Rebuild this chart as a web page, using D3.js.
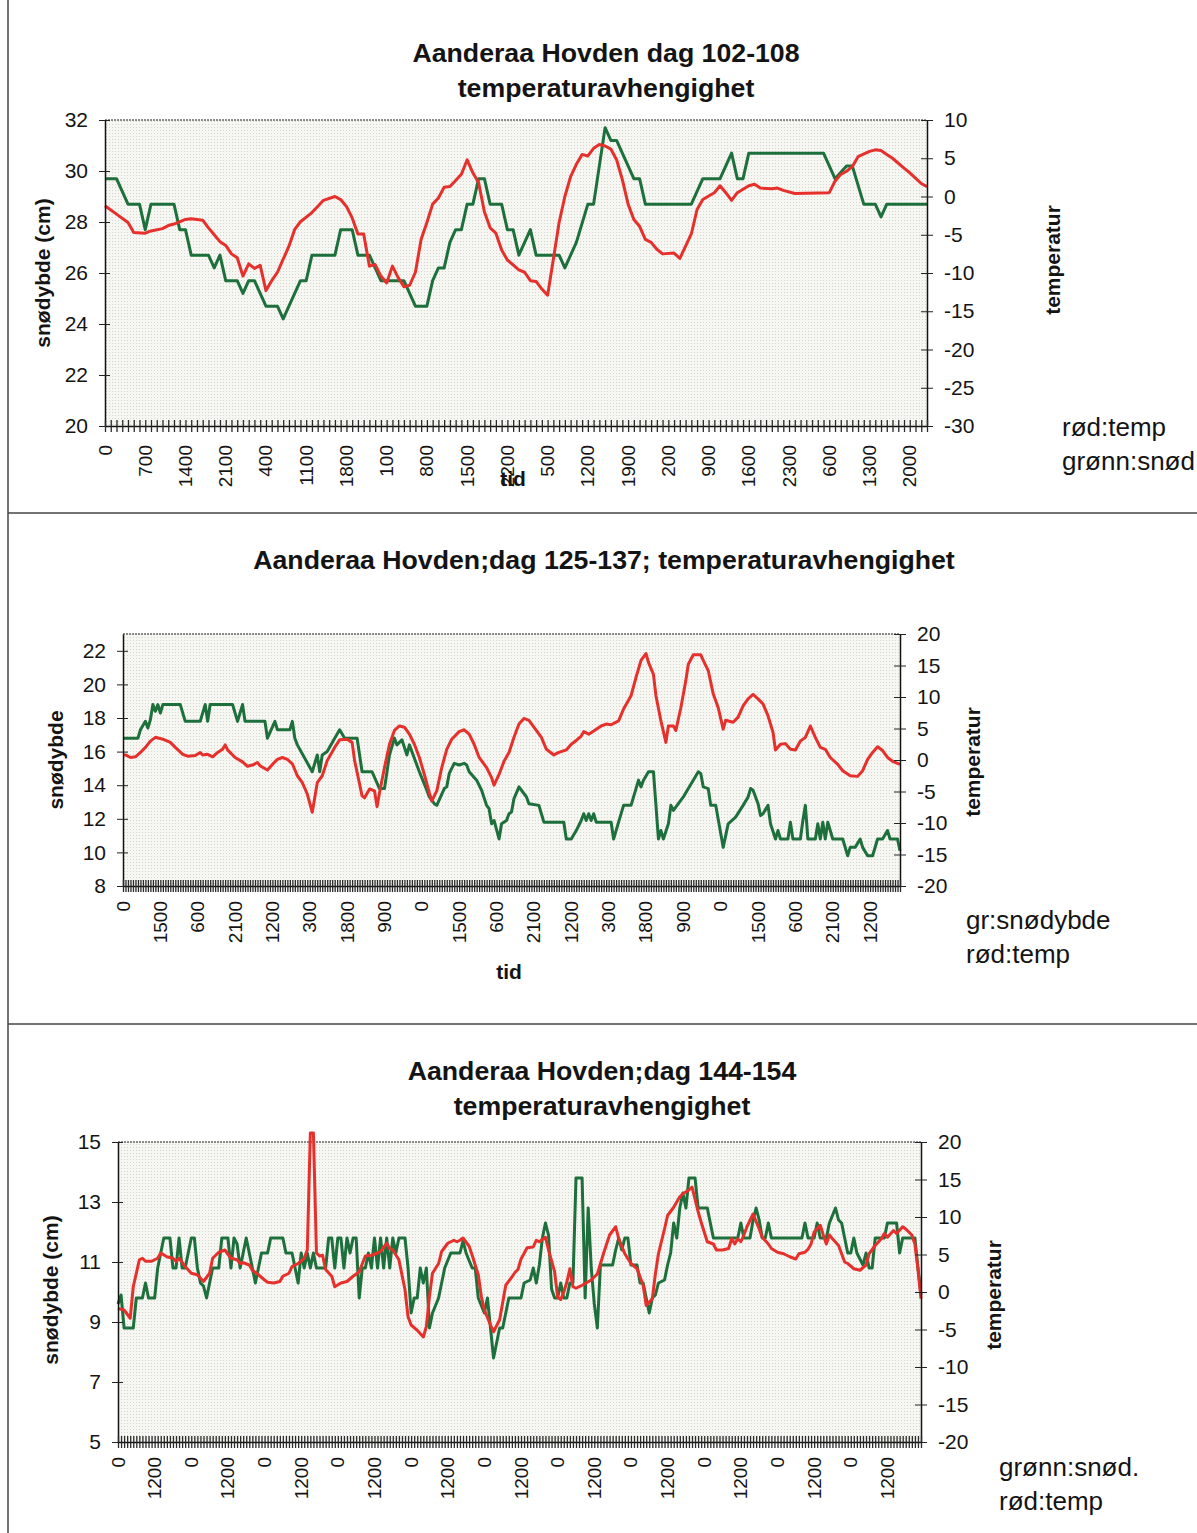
<!DOCTYPE html>
<html>
<head>
<meta charset="utf-8">
<script src="https://cdn.jsdelivr.net/npm/d3@7"></script>
<style>
  html, body { margin: 0; padding: 0; background: #fff; }
  svg { display: block; }
  text { font-family: "Liberation Sans", Arial, Helvetica, sans-serif; fill: #141414; }
</style>
</head>
<body>
<svg id="page" width="1197" height="1533"></svg>
<script>
// Hourly measurements from the Aanderaa station at Hovden.
// Each series is a list of [hour index, value] readings; the line joins them.

// ---------- days 102-108 (144 hours) ----------
const snow102 = [[0,29.7],[2,29.7],[4,28.7],[6,28.7],[7,27.7],[8,28.7],[12,28.7],[13,27.7],[14,27.7],[15,26.7],[18,26.7],[19,26.2],[20,26.7],[21,25.7],[23,25.7],[24,25.2],[25,25.7],[26,25.7],[28,24.7],[30,24.7],[31,24.2],[34,25.7],[35,25.7],[36,26.7],[40,26.7],[41,27.7],[43,27.7],[44,26.7],[46,26.7],[48,25.7],[52,25.7],[54,24.7],[56,24.7],[57,25.7],[58,26.2],[59,26.2],[60,27.2],[61,27.7],[62,27.7],[63,28.7],[64,28.7],[65,29.7],[66,29.7],[67,28.7],[69,28.7],[70,27.7],[71,27.7],[72,26.7],[74,27.7],[75,26.7],[79,26.7],[80,26.2],[81,26.7],[82,27.2],[84,28.7],[85,28.7],[87,31.7],[88,31.2],[89,31.2],[92,29.7],[93,29.7],[94,28.7],[102,28.7],[104,29.7],[107,29.7],[109,30.7],[110,29.7],[111,29.7],[112,30.7],[125,30.7],[127,29.7],[129,30.2],[130,30.2],[132,28.7],[134,28.7],[135,28.2],[136,28.7],[143,28.7]];
const temp102 = [[0,-1.2],[2,-2.3],[4,-3.4],[5,-4.7],[7,-4.8],[8,-4.5],[10,-4.2],[11,-3.8],[12,-3.6],[14,-3.0],[15,-2.9],[17,-3.1],[18,-4.1],[19,-5.0],[20,-5.9],[21,-6.4],[22,-7.5],[23,-8.0],[24,-10.4],[25,-8.8],[26,-9.4],[27,-9.0],[28,-12.3],[29,-11.0],[30,-9.9],[31,-8.2],[32,-6.5],[33,-4.3],[34,-3.3],[36,-2.1],[37,-1.3],[38,-0.5],[40,0.0],[41,-0.4],[42,-1.3],[43,-2.8],[44,-4.9],[45,-4.9],[46,-9.1],[47,-8.9],[48,-10.4],[49,-11.3],[50,-9.1],[51,-10.6],[52,-11.8],[53,-11.6],[54,-9.9],[55,-5.6],[56,-3.4],[57,-1.0],[58,-0.2],[59,1.2],[60,1.3],[61,2.1],[62,2.9],[63,4.8],[64,3.1],[65,1.8],[66,-2.0],[67,-4.1],[68,-4.8],[69,-7.0],[70,-8.3],[72,-9.6],[73,-9.9],[74,-11.0],[75,-11.1],[76,-12.1],[77,-12.9],[78,-8.2],[79,-3.4],[80,0.0],[81,2.6],[82,4.2],[83,5.5],[84,5.3],[85,6.3],[86,6.8],[87,6.6],[88,6.2],[89,4.8],[90,2.2],[91,-1.0],[92,-3.0],[93,-3.9],[94,-5.6],[95,-6.0],[96,-6.9],[97,-7.5],[99,-7.4],[100,-8.1],[101,-6.5],[102,-4.9],[103,-1.7],[104,-0.4],[106,0.5],[107,1.4],[108,0.5],[109,-0.5],[110,0.5],[112,1.4],[113,1.6],[114,1.1],[116,1.0],[117,1.1],[118,0.8],[120,0.4],[126,0.5],[127,2.0],[128,2.9],[129,3.3],[130,3.9],[131,5.2],[133,5.9],[134,6.1],[135,6.0],[136,5.5],[137,5.0],[139,3.7],[140,3.1],[141,2.4],[142,1.7],[143,1.3]];

// ---------- days 125-137 (313 hours) ----------
const snow125 = [[0,16.8],[6,16.8],[7,17.3],[9,17.8],[10,17.4],[11,17.9],[12,18.8],[13,18.4],[14,18.8],[15,18.3],[16,18.8],[23,18.8],[25,17.8],[31,17.8],[33,18.8],[34,17.8],[35,18.8],[44,18.8],[46,17.8],[48,18.8],[49,17.8],[57,17.8],[58,16.8],[61,17.8],[62,17.3],[67,17.3],[68,17.8],[69,16.8],[70,16.4],[76,14.8],[78,15.8],[79,14.8],[80,15.8],[82,16.0],[85,16.8],[87,17.3],[89,16.8],[94,16.8],[96,14.8],[100,14.8],[103,13.8],[105,13.8],[107,15.8],[109,16.8],[110,16.4],[112,16.7],[114,15.8],[115,16.4],[117,15.6],[119,14.8],[122,13.7],[123,13.3],[125,12.9],[126,12.8],[129,13.8],[130,13.9],[131,14.7],[133,15.3],[135,15.2],[137,15.3],[138,15.2],[139,14.8],[142,14.3],[144,13.7],[146,12.8],[147,12.6],[148,11.7],[149,11.9],[151,10.8],[152,11.7],[154,11.9],[155,12.3],[156,12.4],[157,13.2],[159,13.9],[160,13.7],[162,13.3],[163,12.9],[167,12.8],[168,12.3],[169,11.8],[177,11.8],[178,10.8],[180,10.8],[182,11.3],[184,11.9],[185,12.3],[186,11.9],[187,12.3],[188,11.9],[189,12.3],[190,11.8],[196,11.8],[197,10.8],[199,11.8],[201,12.8],[204,12.8],[206,13.8],[207,14.3],[208,13.9],[209,14.3],[211,14.8],[213,14.8],[215,10.8],[216,11.3],[217,10.8],[219,11.7],[220,12.8],[221,12.5],[223,12.9],[225,13.3],[227,13.8],[229,14.3],[231,14.8],[232,14.7],[233,13.9],[235,13.8],[236,12.8],[238,12.8],[241,10.3],[243,11.7],[246,12.1],[249,12.8],[251,13.3],[252,13.8],[253,13.7],[255,12.9],[256,12.2],[257,12.3],[259,12.8],[260,11.7],[262,10.8],[263,11.3],[264,10.8],[267,10.8],[268,11.8],[269,10.8],[272,10.8],[273,11.9],[274,12.8],[275,10.8],[278,10.8],[279,11.7],[280,10.8],[281,11.8],[282,10.8],[283,11.8],[285,10.8],[289,10.8],[291,9.8],[292,10.3],[294,10.3],[296,10.8],[297,10.3],[299,9.8],[301,9.8],[303,10.8],[305,10.8],[307,11.3],[308,10.8],[311,10.8],[312,10.1]];
const temp125 = [[0,0.8],[1,0.8],[3,0.4],[5,0.5],[7,1.2],[9,2.0],[11,3.0],[13,3.6],[16,3.3],[19,2.8],[21,2.0],[24,0.9],[26,0.6],[29,0.7],[31,1.2],[32,0.8],[34,0.9],[36,0.5],[38,1.2],[40,1.7],[41,2.4],[42,1.6],[45,0.4],[48,-0.3],[50,-1.0],[52,-0.8],[54,-0.4],[55,-0.9],[58,-1.6],[60,-0.7],[62,0.1],[64,0.4],[66,0.1],[68,-0.6],[70,-2.5],[72,-3.6],[74,-5.4],[76,-8.3],[77,-6.0],[78,-3.6],[80,-2.5],[82,-0.1],[85,2.0],[87,3.2],[90,3.3],[92,2.8],[93,-0.1],[95,-3.8],[96,-5.7],[97,-6.0],[99,-4.6],[101,-4.9],[102,-7.4],[103,-5.2],[105,-1.2],[107,2.5],[109,4.7],[111,5.4],[113,5.2],[115,4.1],[117,2.5],[119,0.4],[121,-2.3],[123,-5.2],[124,-6.5],[126,-4.9],[128,-1.2],[130,1.7],[132,3.3],[135,4.5],[137,4.8],[139,4.1],[141,2.5],[143,0.4],[146,-1.2],[148,-2.8],[149,-4.0],[151,-2.3],[153,-0.2],[155,1.2],[157,3.6],[159,5.7],[161,6.6],[163,6.3],[165,5.2],[168,3.6],[170,1.7],[173,0.8],[175,1.2],[178,1.6],[180,2.5],[182,3.1],[184,3.8],[185,4.5],[187,4.1],[189,4.6],[192,5.4],[194,5.7],[196,5.6],[199,6.2],[201,8.1],[204,10.2],[206,13.1],[208,15.8],[210,16.9],[211,15.5],[213,13.6],[214,10.2],[216,6.2],[218,2.8],[219,5.4],[221,5.4],[222,4.7],[224,8.3],[226,12.6],[227,15.2],[229,16.7],[232,16.7],[233,15.8],[235,14.2],[237,10.5],[239,8.3],[241,4.9],[242,6.3],[245,6.0],[247,6.8],[249,8.6],[251,9.7],[253,10.4],[255,9.7],[257,8.9],[259,7.0],[261,4.4],[262,1.6],[264,2.5],[266,2.6],[268,1.7],[270,1.6],[272,3.0],[274,3.6],[276,5.4],[278,3.6],[280,2.0],[282,1.7],[284,0.4],[287,-0.7],[289,-1.7],[292,-2.5],[295,-2.6],[297,-1.7],[299,0.1],[301,1.2],[303,2.1],[305,1.5],[307,0.4],[309,-0.2],[312,-0.7]];

// ---------- days 144-154 (264 hours) ----------
const snow144 = [[0,9.6],[1,9.9],[2,8.8],[5,8.8],[6,9.8],[8,9.8],[9,10.3],[10,9.8],[12,9.8],[13,10.8],[14,11.3],[15,11.8],[17,11.8],[18,10.8],[19,10.8],[20,11.8],[21,10.8],[22,10.8],[24,11.8],[25,11.8],[26,10.8],[27,10.3],[28,10.2],[29,9.8],[31,10.8],[33,10.8],[34,11.8],[36,11.8],[37,10.8],[38,11.8],[39,11.6],[40,10.8],[41,11.3],[42,11.8],[43,11.3],[44,10.8],[45,10.3],[47,11.3],[49,11.3],[50,11.8],[54,11.8],[55,11.3],[57,11.3],[58,10.8],[59,10.3],[60,11.3],[61,10.8],[62,11.3],[63,10.8],[64,11.3],[65,10.8],[68,10.8],[69,11.8],[70,11.8],[71,10.8],[72,11.8],[73,11.8],[74,10.8],[75,11.8],[76,11.3],[77,11.8],[78,11.8],[79,9.8],[80,10.8],[81,10.8],[82,11.3],[83,10.8],[84,11.8],[85,10.8],[86,11.8],[87,10.8],[88,11.8],[89,10.8],[90,11.8],[91,11.3],[92,11.8],[94,11.8],[95,10.8],[96,9.3],[97,9.8],[98,9.8],[99,10.8],[100,10.3],[101,10.8],[102,8.8],[103,9.3],[105,9.8],[106,10.3],[107,10.8],[109,11.3],[112,11.3],[113,11.7],[114,11.3],[116,10.8],[117,10.8],[118,9.8],[120,9.3],[121,9.8],[122,8.8],[123,7.8],[124,8.3],[125,8.8],[126,8.8],[128,9.8],[132,9.8],[133,10.3],[135,10.4],[136,10.8],[137,10.3],[138,10.9],[139,11.8],[140,12.3],[141,11.9],[142,10.1],[143,9.8],[144,9.8],[145,10.3],[146,9.8],[147,9.8],[148,10.3],[149,10.3],[150,13.8],[152,13.8],[153,9.8],[154,12.8],[155,10.8],[156,9.6],[157,8.8],[158,10.9],[162,10.9],[163,11.4],[164,11.8],[165,11.4],[166,11.8],[167,11.8],[168,10.9],[170,10.9],[171,10.3],[172,10.3],[174,9.3],[175,9.8],[176,9.9],[177,10.3],[179,10.4],[180,10.9],[181,11.3],[182,12.3],[183,11.8],[184,12.8],[185,13.3],[186,12.8],[187,13.8],[189,13.8],[190,12.8],[193,12.8],[195,11.8],[203,11.8],[204,12.3],[205,11.8],[207,11.8],[208,12.4],[209,12.8],[210,12.4],[211,11.8],[212,11.8],[213,12.3],[214,11.8],[224,11.8],[225,12.3],[226,11.8],[228,11.8],[229,12.3],[230,11.8],[232,11.8],[233,12.3],[235,12.8],[236,12.4],[237,12.3],[238,11.8],[239,11.3],[240,11.3],[241,11.8],[242,11.3],[244,10.9],[245,11.3],[246,10.8],[247,10.8],[248,11.8],[251,11.8],[252,12.3],[255,12.3],[256,11.3],[257,11.8],[261,11.8],[262,10.8],[263,9.9]];
const temp144 = [[0,-2.2],[2,-2.4],[4,-3.5],[5,0.7],[7,4.3],[8,4.5],[9,4.1],[11,4.1],[13,4.5],[14,5.2],[16,4.7],[18,4.5],[19,4.1],[20,4.5],[22,3.4],[24,2.5],[26,2.3],[28,1.4],[30,2.5],[31,4.5],[33,5.3],[35,5.6],[37,4.5],[39,4.3],[40,3.8],[41,3.9],[43,3.6],[44,2.9],[46,2.3],[48,1.6],[49,1.3],[51,1.2],[53,1.4],[54,2.1],[56,2.5],[57,3.4],[59,3.8],[61,4.5],[62,5.6],[63,21.2],[64,21.2],[65,5.2],[66,4.8],[67,4.9],[68,3.0],[70,2.1],[71,0.7],[73,1.2],[75,1.4],[77,2.1],[79,2.7],[81,4.8],[83,4.9],[85,5.2],[86,5.4],[88,6.5],[89,5.8],[90,5.6],[92,4.3],[94,0.3],[95,-3.3],[96,-4.4],[98,-5.1],[100,-6.0],[101,-4.6],[102,-0.6],[103,2.5],[105,3.8],[106,5.4],[108,6.5],[110,6.9],[111,6.7],[112,6.9],[113,7.2],[115,6.1],[116,4.9],[118,2.3],[119,-0.6],[120,-2.4],[122,-4.4],[123,-5.3],[125,-3.7],[127,0.9],[129,2.0],[130,2.6],[131,3.0],[132,4.4],[134,5.9],[136,6.0],[137,6.9],[138,6.7],[140,7.3],[141,5.6],[143,2.7],[144,-0.7],[145,-1.0],[146,0.0],[147,1.3],[148,3.1],[149,0.7],[150,0.5],[152,0.9],[155,1.6],[157,2.4],[159,5.1],[161,7.6],[163,8.7],[164,7.1],[166,5.1],[168,3.8],[170,3.1],[172,0.9],[173,-1.8],[175,-0.9],[176,2.4],[177,5.1],[179,8.4],[180,10.2],[182,11.3],[184,12.7],[185,13.1],[187,13.6],[188,14.0],[190,10.7],[191,9.3],[193,6.7],[195,6.4],[196,5.6],[198,5.6],[200,5.8],[201,7.1],[202,6.4],[203,7.1],[204,6.7],[205,7.6],[206,8.7],[208,10.4],[210,8.4],[211,7.3],[213,6.4],[214,5.8],[216,5.3],[218,5.1],[220,4.7],[222,4.4],[223,5.1],[225,5.3],[226,5.7],[227,6.4],[228,8.0],[230,8.9],[231,7.6],[232,6.4],[233,7.6],[234,7.1],[236,6.2],[238,4.0],[239,3.8],[241,3.1],[243,2.9],[245,3.6],[246,5.1],[248,6.2],[250,7.1],[251,7.8],[252,7.3],[254,8.2],[255,7.8],[257,8.7],[258,8.4],[260,7.6],[261,6.4],[262,3.1],[263,-0.9]];

// ---------- time axis: clock hour of every sample ----------
const clockHours = d3.range(0, 2400, 100);
const hourCount102 = 144, hourCount125 = 313, hourCount144 = 264;
const categories102 = d3.range(hourCount102).map(i => clockHours[i % 24]);
const categories125 = d3.range(hourCount125).map(i => clockHours[i % 24]);
const categories144 = d3.range(hourCount144).map(i => clockHours[i % 24]);
const labelStep102 = 7, labelStep125 = 15, labelStep144 = 12;

// ---------- axis ticks ----------
const snowTicks102 = d3.range(20, 33, 2), tempTicks102 = d3.range(-30, 11, 5);
const snowTicks125 = d3.range(8, 23, 2),  tempTicks125 = d3.range(-20, 21, 5);
const snowTicks144 = d3.range(5, 16, 2),  tempTicks144 = d3.range(-20, 21, 5);

// ---------- texts ----------
const titles102 = ["Aanderaa Hovden dag 102-108", "temperaturavhengighet"];
const titles125 = ["Aanderaa Hovden;dag 125-137; temperaturavhengighet"];
const titles144 = ["Aanderaa Hovden;dag 144-154", "temperaturavhengighet"];
const legend102 = ["rød:temp", "grønn:snød"];
const legend125 = ["gr:snødybde", "rød:temp"];
const legend144 = ["grønn:snød.", "rød:temp"];

const RED = "#e5302b", GREEN = "#1d6f3b";
const svg = d3.select("#page");

// stippled plot-area fill
const defs = svg.append("defs");
const pat = defs.append("pattern").attr("id", "stipple")
  .attr("width", 3).attr("height", 3).attr("patternUnits", "userSpaceOnUse");
pat.append("rect").attr("width", 3).attr("height", 3).attr("fill", "#f6f6f2");
pat.append("rect").attr("x", 1).attr("y", 1).attr("width", 1).attr("height", 1).attr("fill", "#d6d6cf");

// page frame and separators
const frame = svg.append("g").attr("stroke", "#444").attr("stroke-width", 1.5);
frame.append("line").attr("x1", 8).attr("x2", 8).attr("y1", 0).attr("y2", 1533);
frame.append("line").attr("x1", 8).attr("x2", 1197).attr("y1", 513).attr("y2", 513);
frame.append("line").attr("x1", 8).attr("x2", 1197).attr("y1", 1024).attr("y2", 1024);

const panels = [
  { titles: titles102, titleX: 606, titleY: [62, 97], box: { l: 105, r: 927, t: 120, b: 426 },
    categories: categories102, labelStep: labelStep102, labelGap: 19,
    snowDomain: [20, 32], snowTicks: snowTicks102, tempDomain: [-30, 10], tempTicks: tempTicks102,
    snow: snow102, temp: temp102,
    leftTitle: { text: "snødybde (cm)", x: 42, y: 273 }, rightTitle: { text: "temperatur", x: 1052, y: 260 },
    xTitle: { text: "tid", x: 513, y: 486 },
    legend: legend102, legendX: 1062, legendY: [436, 470] },
  { titles: titles125, titleX: 604, titleY: [569], box: { l: 123, r: 900, t: 634, b: 886 },
    categories: categories125, labelGap: 15, labelStep: labelStep125,
    snowDomain: [8, 23], snowTicks: snowTicks125, tempDomain: [-20, 20], tempTicks: tempTicks125,
    snow: snow125, temp: temp125,
    leftTitle: { text: "snødybde", x: 55, y: 760 }, rightTitle: { text: "temperatur", x: 972, y: 762 },
    xTitle: { text: "tid", x: 509, y: 979 },
    legend: legend125, legendX: 966, legendY: [929, 963] },
  { titles: titles144, titleX: 602, titleY: [1080, 1115], box: { l: 118, r: 921, t: 1142, b: 1442 },
    categories: categories144, labelGap: 15, labelStep: labelStep144,
    snowDomain: [5, 15], snowTicks: snowTicks144, tempDomain: [-20, 20], tempTicks: tempTicks144,
    snow: snow144, temp: temp144,
    leftTitle: { text: "snødybde (cm)", x: 50, y: 1290 }, rightTitle: { text: "temperatur", x: 993, y: 1295 },
    xTitle: null,
    legend: legend144, legendX: 999, legendY: [1476, 1510] }
];

panels.forEach(drawPanel);

function drawPanel(p) {
  const { l, r, t, b } = p.box;
  const g = svg.append("g");
  const n = p.categories.length;

  const x = d3.scalePoint().domain(d3.range(n)).range([l, r]).padding(0);
  const yL = d3.scaleLinear().domain(p.snowDomain).range([b, t]);
  const yR = d3.scaleLinear().domain(p.tempDomain).range([b, t]);

  // titles
  p.titles.forEach((s, k) => g.append("text")
    .attr("x", p.titleX).attr("y", p.titleY[k]).attr("text-anchor", "middle")
    .attr("font-size", 26.7).attr("font-weight", "bold").text(s));

  // plot area
  g.append("rect").attr("x", l).attr("y", t).attr("width", r - l).attr("height", b - t)
    .attr("fill", "url(#stipple)");
  g.append("line").attr("x1", l).attr("x2", r).attr("y1", t).attr("y2", t)
    .attr("stroke", "#666").attr("stroke-width", 1.5).attr("stroke-dasharray", "2,1");

  // series
  const lineL = d3.line().x(d => x(d[0])).y(d => yL(d[1]));
  const lineR = d3.line().x(d => x(d[0])).y(d => yR(d[1]));
  g.append("path").attr("d", lineL(p.snow)).attr("fill", "none")
    .attr("stroke", GREEN).attr("stroke-width", 3).attr("stroke-linejoin", "round");
  g.append("path").attr("d", lineR(p.temp)).attr("fill", "none")
    .attr("stroke", RED).attr("stroke-width", 3).attr("stroke-linejoin", "round");

  // left axis
  const axL = g.append("g").attr("transform", `translate(${l},0)`)
    .call(d3.axisLeft(yL).tickValues(p.snowTicks).tickSizeInner(5).tickSizeOuter(0).tickPadding(12).tickFormat(d => String(d)));
  styleAxis(axL);
  axL.selectAll(".tick line").attr("x1", 5).attr("x2", -6);
  axL.selectAll("text").attr("font-size", 21);

  // right axis
  const axR = g.append("g").attr("transform", `translate(${r},0)`)
    .call(d3.axisRight(yR).tickValues(p.tempTicks).tickSizeInner(5).tickSizeOuter(0).tickPadding(12).tickFormat(d => String(d)));
  styleAxis(axR);
  axR.selectAll(".tick line").attr("x1", -6).attr("x2", 6);
  axR.selectAll("text").attr("font-size", 21);

  // category axis: a tick on every hour, a label on every labelStep-th hour
  const axB = g.append("g").attr("transform", `translate(0,${b})`)
    .call(d3.axisBottom(x).tickSizeInner(6).tickSizeOuter(0).tickFormat(""));
  styleAxis(axB);
  axB.selectAll(".tick line").attr("y1", -6).attr("y2", 6).attr("stroke-width", 1.3).attr("stroke", "#2a2a2a");
  g.append("g").selectAll("text")
    .data(d3.range(0, n, p.labelStep))
    .join("text")
    .attr("transform", i => `translate(${x(i)},${b + p.labelGap}) rotate(-90)`)
    .attr("text-anchor", "end").attr("dominant-baseline", "central")
    .attr("font-size", 19)
    .text(i => p.categories[i]);

  // axis titles
  [p.leftTitle, p.rightTitle].forEach(a => g.append("text")
    .attr("transform", `translate(${a.x},${a.y}) rotate(-90)`)
    .attr("text-anchor", "middle").attr("dominant-baseline", "central")
    .attr("font-size", 21).attr("font-weight", "bold").text(a.text));
  if (p.xTitle) g.append("text").attr("x", p.xTitle.x).attr("y", p.xTitle.y)
    .attr("text-anchor", "middle").attr("font-size", 21).attr("font-weight", "bold").text(p.xTitle.text);

  // legend notes
  p.legend.forEach((s, k) => g.append("text")
    .attr("x", p.legendX).attr("y", p.legendY[k]).attr("font-size", 26).text(s));
}

function styleAxis(ax) {
  ax.select(".domain").attr("stroke", "#111").attr("stroke-width", 1.5);
  ax.selectAll(".tick line").attr("stroke", "#222");
  ax.selectAll("text").attr("fill", "#141414")
    .attr("font-family", "'Liberation Sans', Arial, sans-serif");
}
</script>
</body>
</html>
